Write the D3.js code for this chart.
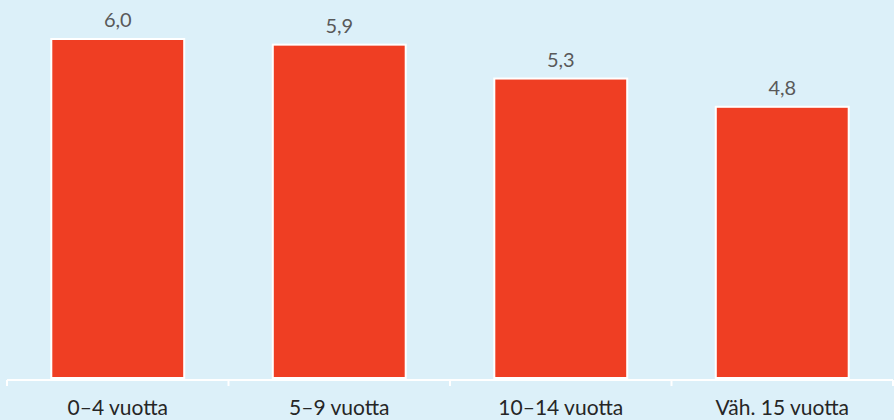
<!DOCTYPE html>
<html>
<head>
<meta charset="utf-8">
<script src="https://cdn.jsdelivr.net/npm/d3@7"></script>
<style>
  html, body { margin: 0; padding: 0; background: #dcf0f9; }
  svg { display: block; }
</style>
</head>
<body>
<svg id="chart"></svg>
<script>
const categories = ["0–4 vuotta", "5–9 vuotta", "10–14 vuotta", "Väh. 15 vuotta"];
const values = [6.0, 5.9, 5.3, 4.8];
const valueLabels = ["6,0", "5,9", "5,3", "4,8"];

const dimensions = {
  width: 894,
  height: 420,
  margin: { top: 39, bottom: 42, left: 7, right: 1 }
};

const svg = d3.select("#chart")
  .attr("width", dimensions.width)
  .attr("height", dimensions.height);

svg.append("rect")
  .attr("width", dimensions.width)
  .attr("height", dimensions.height)
  .attr("fill", "#dcf0f9");

const xScale = d3.scaleBand()
  .domain(categories)
  .range([dimensions.margin.left, dimensions.width - dimensions.margin.right])
  .paddingInner(0.4)
  .paddingOuter(0.2);

const yScale = d3.scaleLinear()
  .domain([0, 6])
  .range([dimensions.height - dimensions.margin.bottom, dimensions.margin.top]);

// bars
svg.append("g")
  .selectAll("rect")
  .data(values)
  .join("rect")
  .attr("x", (d, i) => xScale(categories[i]))
  .attr("y", d => yScale(d))
  .attr("width", xScale.bandwidth())
  .attr("height", d => yScale(0) - yScale(d))
  .attr("fill", "#ef3e23")
  .attr("stroke", "#ffffff")
  .attr("stroke-width", 2);

// value labels
svg.append("g")
  .selectAll("text")
  .data(values)
  .join("text")
  .attr("x", (d, i) => xScale(categories[i]) + xScale.bandwidth() / 2)
  .attr("y", d => yScale(d) - 12)
  .attr("text-anchor", "middle")
  .attr("font-family", "Lato, 'Open Sans', sans-serif")
  .attr("font-size", 20)
  .attr("fill", "#595959")
  .text((d, i) => valueLabels[i]);

// x axis
const axisX = d3.axisBottom(xScale)
  .tickSize(0)
  .tickPadding(20);

const gx = svg.append("g")
  .attr("transform", `translate(0, ${yScale(0) + 2})`)
  .call(axisX);

gx.select(".domain").remove();
gx.append("line")
  .attr("x1", dimensions.margin.left)
  .attr("x2", dimensions.width - dimensions.margin.right)
  .attr("stroke", "#ffffff")
  .attr("stroke-width", 2);

// boundary ticks between categories
const step = xScale.step();
const bounds = d3.range(categories.length + 1).map(i => dimensions.margin.left + i * step);
gx.selectAll(".bound")
  .data(bounds)
  .join("line")
  .attr("class", "bound")
  .attr("x1", d => d)
  .attr("x2", d => d)
  .attr("y1", 0)
  .attr("y2", 6)
  .attr("stroke", "#ffffff")
  .attr("stroke-width", 2);

gx.selectAll(".tick text")
  .attr("font-family", "Lato, 'Open Sans', sans-serif")
  .attr("font-size", 21)
  .attr("fill", "#262626");
</script>
</body>
</html>
